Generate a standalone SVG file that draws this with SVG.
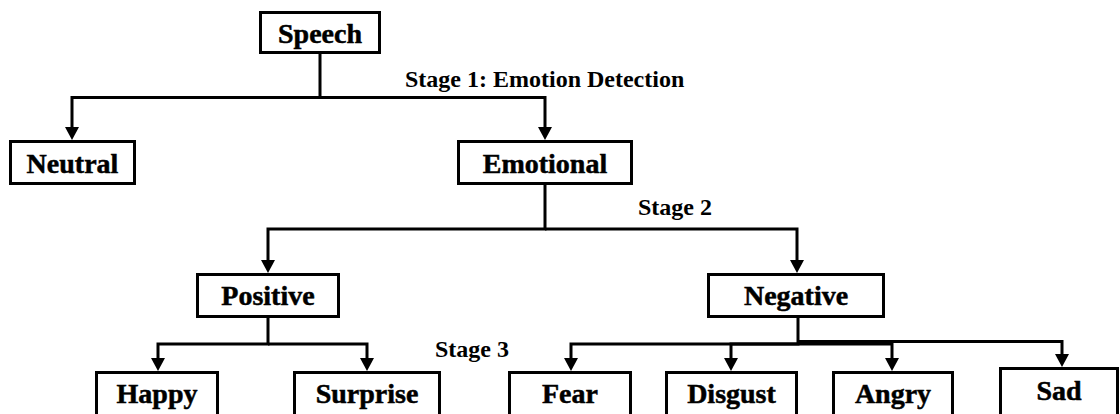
<svg xmlns="http://www.w3.org/2000/svg" width="1120" height="414" viewBox="0 0 1120 414">
<style>
.box{fill:#fff;stroke:#000;stroke-width:3}
.lbl{font-family:"Liberation Serif","Times New Roman",serif;font-weight:bold;font-size:28px;text-anchor:middle;fill:#000;stroke:#000;stroke-width:0.5}
.stage{font-family:"Liberation Serif","Times New Roman",serif;font-weight:bold;font-size:24px;fill:#000}
.con{fill:none;stroke:#000;stroke-width:3;stroke-linejoin:miter}
</style>
<defs>
<marker id="arr" viewBox="0 0 13 14" refX="0" refY="7" markerWidth="13" markerHeight="14" markerUnits="userSpaceOnUse" orient="auto">
<path d="M0,0 L13,7 L0,14 Z" fill="#000"/>
</marker>
</defs>
<rect width="1120" height="414" fill="#fff"/>
<g id="connectors">
<path class="con" d="M320,54 V97.5 H72 V127" marker-end="url(#arr)"/>
<path class="con" d="M320,97.5 H545 V127" marker-end="url(#arr)"/>
<path class="con" d="M545,185 V229 H268 V260" marker-end="url(#arr)"/>
<path class="con" d="M545,229 H797 V260" marker-end="url(#arr)"/>
<path class="con" d="M268,318 V344 H158 V358" marker-end="url(#arr)"/>
<path class="con" d="M268,344 H367 V358" marker-end="url(#arr)"/>
<path class="con" d="M798,318 V344 H571 V358" marker-end="url(#arr)"/>
<path class="con" d="M798,344 H731 V358" marker-end="url(#arr)"/>
<path class="con" d="M798,344 H892 V358" marker-end="url(#arr)"/>
<path class="con" d="M798,341.5 H1062 V354" marker-end="url(#arr)"/>
</g>
<g id="stage-labels">
<text class="stage" x="405" y="87">Stage 1: Emotion Detection</text>
<text class="stage" x="638" y="215">Stage 2</text>
<text class="stage" x="435" y="357">Stage 3</text>
</g>
<g id="speech"><rect class="box" x="260.5" y="12.5" width="119" height="40"/><text class="lbl" x="320" y="43">Speech</text></g>
<g id="neutral"><rect class="box" x="10.5" y="141.5" width="124" height="42"/><text class="lbl" x="72.5" y="173">Neutral</text></g>
<g id="emotional"><rect class="box" x="458.5" y="141.5" width="173" height="42"/><text class="lbl" x="545" y="173">Emotional</text></g>
<g id="positive"><rect class="box" x="197.5" y="274.5" width="141" height="42"/><text class="lbl" x="268" y="305">Positive</text></g>
<g id="negative"><rect class="box" x="708.5" y="274.5" width="175" height="42"/><text class="lbl" x="796" y="305">Negative</text></g>
<g id="happy"><rect class="box" x="96.5" y="372.5" width="121" height="50"/><text class="lbl" x="157" y="403">Happy</text></g>
<g id="surprise"><rect class="box" x="294.5" y="372.5" width="145" height="50"/><text class="lbl" x="367" y="403">Surprise</text></g>
<g id="fear"><rect class="box" x="509.5" y="372.5" width="121" height="50"/><text class="lbl" x="570" y="403">Fear</text></g>
<g id="disgust"><rect class="box" x="666.5" y="372.5" width="130" height="50"/><text class="lbl" x="731.5" y="403">Disgust</text></g>
<g id="angry"><rect class="box" x="833.5" y="372.5" width="119" height="50"/><text class="lbl" x="893" y="403">Angry</text></g>
<g id="sad"><rect class="box" x="1000.5" y="368.5" width="117" height="50"/><text class="lbl" x="1059" y="400">Sad</text></g>
</svg>
